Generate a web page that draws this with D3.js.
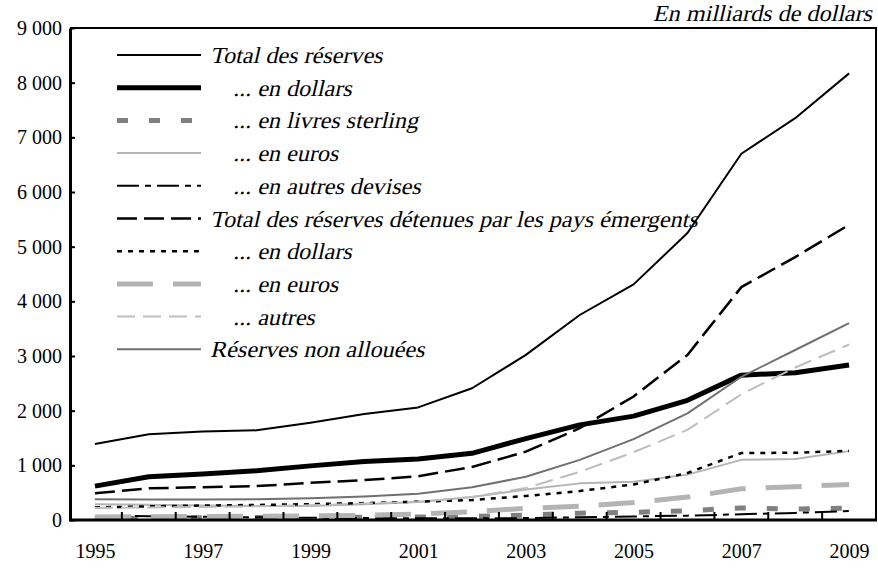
<!DOCTYPE html>
<html>
<head>
<meta charset="utf-8">
<script src="https://cdn.jsdelivr.net/npm/d3@7"></script>
<style>
  body { margin: 0; background: #fff; }
</style>
</head>
<body>
<svg id="chart" width="878" height="569"></svg>
<script>
// Data (milliards de dollars)
const years = d3.range(1995, 2010);
const xLabels = [1995, 1997, 1999, 2001, 2003, 2005, 2007, 2009];
const yTicks = [0, 1000, 2000, 3000, 4000, 5000, 6000, 7000, 8000, 9000];

const totalReserves   = [1390, 1570, 1620, 1640, 1780, 1940, 2060, 2410, 3020, 3750, 4310, 5250, 6700, 7350, 8170];
const totalDollars    = [620, 790, 840, 900, 990, 1070, 1115, 1220, 1490, 1740, 1900, 2190, 2650, 2695, 2835];
const totalSterling   = [30, 35, 40, 45, 45, 50, 55, 65, 90, 125, 140, 170, 220, 200, 215];
const totalEuros      = [290, 280, 265, 255, 255, 290, 330, 420, 560, 670, 700, 830, 1100, 1115, 1260];
const totalOther      = [75, 70, 60, 50, 40, 35, 30, 30, 35, 50, 65, 80, 105, 130, 165];
const emergTotal      = [490, 580, 600, 620, 680, 730, 800, 970, 1250, 1680, 2260, 3020, 4260, 4810, 5400];
const emergDollars    = [230, 250, 265, 275, 290, 310, 335, 365, 440, 530, 650, 860, 1225, 1230, 1265];
const emergEuros      = [55, 60, 65, 70, 75, 85, 110, 150, 215, 250, 320, 420, 570, 610, 650];
const emergOther      = [220, 230, 240, 250, 270, 300, 330, 420, 585, 880, 1240, 1650, 2300, 2790, 3210];
const unallocated     = [380, 375, 375, 380, 400, 430, 480, 600, 790, 1100, 1480, 1950, 2620, 3110, 3600];

const series = [
  {label: "Total des réserves", values: totalReserves, color: "#000", width: 2, dash: null, sub: false},
  {label: "... en dollars", values: totalDollars, color: "#000", width: 5, dash: null, sub: true},
  {label: "... en livres sterling", values: totalSterling, color: "#808080", width: 5, dash: "11,21", sub: true},
  {label: "... en euros", values: totalEuros, color: "#b4b4b4", width: 2, dash: null, sub: true},
  {label: "... en autres devises", values: totalOther, color: "#000", width: 2, dash: "22,6,6,6", sub: true},
  {label: "Total des réserves détenues par les pays émergents", values: emergTotal, color: "#000", width: 2.5, dash: "20,7", sub: false},
  {label: "... en dollars", values: emergDollars, color: "#000", width: 2.5, dash: "5,6", sub: true},
  {label: "... en euros", values: emergEuros, color: "#b4b4b4", width: 5, dash: "36,20", sub: true},
  {label: "... autres", values: emergOther, color: "#bdbdbd", width: 2, dash: "18,8", sub: true},
  {label: "Réserves non allouées", values: unallocated, color: "#707070", width: 2, dash: null, sub: false}
];

const serif = "'Liberation Serif', 'DejaVu Serif', serif";
const slant = "skewX(-13) scale(1.05,1)";  // no italic face installed, slant the roman one
const svg = d3.select("#chart");
const plotLeft = 70, plotRight = 876, plotTop = 28, plotBottom = 520;

const x = d3.scalePoint()
    .domain(years)
    .range([68, plotRight])
    .padding(0.5);

const y = d3.scaleLinear()
    .domain([0, 9000])
    .range([plotBottom, plotTop]);

const fmt = d3.formatLocale({decimal: ",", thousands: " ", grouping: [3], currency: ["", ""]}).format(",");

// frame top / right
svg.append("path")
    .attr("d", `M${plotLeft},${plotTop}H${plotRight}V${plotBottom}`)
    .attr("fill", "none")
    .attr("stroke", "#000")
    .attr("stroke-width", 2);

// lines
const line = d3.line()
    .x((d, i) => x(years[i]))
    .y(d => y(d));

svg.selectAll(".serie")
    .data(series)
    .enter().append("path")
    .attr("class", "serie")
    .attr("d", d => line(d.values))
    .attr("fill", "none")
    .attr("stroke", d => d.color)
    .attr("stroke-width", d => d.width)
    .attr("stroke-dasharray", d => d.dash)
    .attr("stroke-linejoin", "round");

// y axis
const yAxis = svg.append("g")
    .attr("transform", `translate(${plotLeft},0)`)
    .call(d3.axisLeft(y).tickValues(yTicks).tickFormat(fmt).tickSizeInner(-5).tickSizeOuter(0).tickPadding(8));
yAxis.select(".domain").attr("stroke-width", 3);
yAxis.selectAll(".tick line").attr("stroke-width", 2);
yAxis.selectAll("text").style("font-family", serif).style("font-size", "20px").attr("fill", "#000");

// x axis
const step = x.step();
const xAxis = svg.append("g")
    .attr("transform", `translate(0,${plotBottom})`)
    .call(d3.axisBottom(x).tickValues(xLabels).tickSize(0).tickPadding(24));
xAxis.select(".domain").remove();
xAxis.selectAll("text").style("font-family", serif).style("font-size", "20px").attr("fill", "#000");

svg.append("line")
    .attr("x1", plotLeft - 1).attr("x2", plotRight + 1)
    .attr("y1", plotBottom).attr("y2", plotBottom)
    .attr("stroke", "#000").attr("stroke-width", 3);

svg.selectAll(".xtick")
    .data(years.slice(0, -1))
    .enter().append("line")
    .attr("class", "xtick")
    .attr("x1", d => x(d) + step / 2).attr("x2", d => x(d) + step / 2)
    .attr("y1", plotBottom).attr("y2", plotBottom - 8)
    .attr("stroke", "#000").attr("stroke-width", 2);

// unit
svg.append("text")
    .attr("transform", `translate(872,21) ${slant}`)
    .attr("text-anchor", "end")
    .style("font-family", serif)
    .style("font-size", "23px")
    .text("En milliards de dollars");

// legend
const legend = svg.selectAll(".legend")
    .data(series)
    .enter().append("g")
    .attr("class", "legend")
    .attr("transform", (d, i) => `translate(0,${55 + i * 32.7})`);

legend.append("line")
    .attr("x1", 117).attr("x2", 201)
    .attr("stroke", d => d.color)
    .attr("stroke-width", d => d.width)
    .attr("stroke-dasharray", d => d.dash);

legend.append("text")
    .attr("transform", d => `translate(${d.sub ? 233 : 210},8) ${slant}`)
    .style("font-family", serif)
    .style("font-size", "23px")
    .text(d => d.label);
</script>
</body>
</html>
